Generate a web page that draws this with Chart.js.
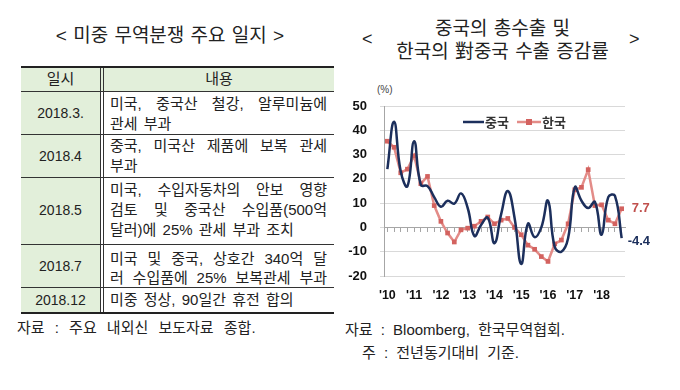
<!DOCTYPE html>
<html><head><meta charset="utf-8">
<script src="https://cdn.jsdelivr.net/npm/chart.js@4.4.1/dist/chart.umd.min.js"></script>
<style>
html,body{margin:0;padding:0;background:#fff;}
body{width:680px;height:390px;position:relative;overflow:hidden;font-family:"Liberation Sans","Noto Sans CJK KR",sans-serif;color:#222;}
.a{position:absolute;white-space:nowrap;}
.ln{position:absolute;background:#333;}
.bg{position:absolute;background:#e2efda;}
.c1{position:absolute;left:21px;width:79px;text-align:center;font-size:14px;line-height:20px;}
.t{position:absolute;left:110px;width:217px;font-size:15px;line-height:20px;white-space:nowrap;word-spacing:2px;}
.j{text-align:justify;text-align-last:justify;word-spacing:0;}
</style></head>
<body>
<!-- left: table -->
<div class="a" style="left:0;width:340px;top:25px;text-align:center;font-size:19px;line-height:22px;word-spacing:1px;">&lt; 미중 무역분쟁 주요 일지 &gt;</div>
<div class="bg" style="left:21px;top:68px;width:313px;height:24px;"></div>
<div class="bg" style="left:21px;top:92px;width:79px;height:220px;"></div>
<div class="ln" style="left:21px;top:66px;width:313px;height:2px;background:#222;"></div>
<div class="ln" style="left:21px;top:91px;width:313px;height:1px;"></div>
<div class="ln" style="left:21px;top:134px;width:313px;height:1px;"></div>
<div class="ln" style="left:21px;top:177px;width:313px;height:1px;"></div>
<div class="ln" style="left:21px;top:244px;width:313px;height:1px;"></div>
<div class="ln" style="left:21px;top:287px;width:313px;height:1px;"></div>
<div class="ln" style="left:21px;top:312px;width:313px;height:2px;background:#222;"></div>
<div class="ln" style="left:100px;top:68px;width:1px;height:244px;"></div>
<div class="ln" style="left:103px;top:68px;width:1px;height:244px;"></div>

<div class="c1" style="top:69px;font-size:15px;">일시</div>
<div class="a" style="left:104px;width:230px;top:69px;text-align:center;font-size:15px;line-height:20px;">내용</div>

<div class="c1" style="top:103px;">2018.3.</div>
<div class="t j" style="top:94px;">미국, 중국산 철강, 알루미늄에</div>
<div class="t" style="top:114px;">관세 부과</div>

<div class="c1" style="top:146px;">2018.4</div>
<div class="t j" style="top:136px;">중국, 미국산 제품에 보복 관세</div>
<div class="t" style="top:156px;">부과</div>

<div class="c1" style="top:200px;">2018.5</div>
<div class="t j" style="top:180px;">미국, 수입자동차의 안보 영향</div>
<div class="t j" style="top:200px;">검토 및 중국산 수입품(500억</div>
<div class="t" style="top:220px;">달러)에 25% 관세 부과 조치</div>

<div class="c1" style="top:256px;">2018.7</div>
<div class="t j" style="top:249px;">미국 및 중국, 상호간 340억 달</div>
<div class="t j" style="top:268px;">러 수입품에 25% 보복관세 부과</div>

<div class="c1" style="top:290px;">2018.12</div>
<div class="t" style="top:290px;">미중 정상, 90일간 휴전 합의</div>

<div class="a" style="left:17px;top:318px;font-size:15px;line-height:20px;word-spacing:6px;">자료 : 주요 내외신 보도자료 종합.</div>

<!-- right: chart -->
<div class="a" style="left:340px;width:325px;top:17px;text-align:center;font-size:19px;line-height:23px;word-spacing:1px;">중국의 총수출 및<br>한국의 對중국 수출 증감률</div>
<div class="a" style="left:362px;top:28px;font-size:18px;line-height:22px;">&lt;</div>
<div class="a" style="left:629px;top:28px;font-size:18px;line-height:22px;">&gt;</div>
<div class="a" style="left:377px;top:83px;font-size:10px;line-height:14px;color:#444;">(%)</div>
<canvas id="c" width="330" height="230" style="position:absolute;left:340px;top:85px;width:330px;height:230px;"></canvas>
<div class="a" style="left:345px;top:320px;font-size:15px;line-height:20px;word-spacing:4px;">자료 : Bloomberg, 한국무역협회.</div>
<div class="a" style="left:362px;top:343px;font-size:15px;line-height:20px;word-spacing:4px;">주 : 전년동기대비 기준.</div>

<script>
const quarters = ["2010Q1","2010Q2","2010Q3","2010Q4","2011Q1","2011Q2","2011Q3","2011Q4",
  "2012Q1","2012Q2","2012Q3","2012Q4","2013Q1","2013Q2","2013Q3","2013Q4",
  "2014Q1","2014Q2","2014Q3","2014Q4","2015Q1","2015Q2","2015Q3","2015Q4",
  "2016Q1","2016Q2","2016Q3","2016Q4","2017Q1","2017Q2","2017Q3","2017Q4",
  "2018Q1","2018Q2","2018Q3","2018Q4"];
const yearTicks = ["'10","'11","'12","'13","'14","'15","'16","'17","'18"];
const china = [24, 43.5, 23, 17, 35.5, 17.5, 17, 12.5, 8.5, 11, 9.8, 14, 8, -3.5, 1, 4, -6.5, 5.5, 15, 4,
  -15, 1.5, -4, 0, 11, -8, -10, -4.5, 16.5, 11, 8, 10.5, -3, 12.5, 13, -4.4];
const korea = [35.5, 33, 22.5, 24, 29.5, 18, 21, 9, 2.5, -2.3, -6, -1, -0.3, 0.5, 2.5, 4.3, 1.5, 3, 3.7, 0,
  -3, -7.3, -9, -12, -14, -6.8, -5.2, 1.5, 15.5, 16.5, 23.8, 9, 9.3, 3, 1.5, 7.7];
const seriesNames = ["중국", "한국"];
const yTicks = {min: -20, max: 50, step: 10};

const NAVY = '#1c2f5c', RED_LINE = '#e38c88', RED_MK = '#d3625f';

const overlay = {
  id: 'overlay',
  afterDatasetsDraw(chart) {
    const ctx = chart.ctx, a = chart.chartArea;
    ctx.save();
    const ly = a.top + 16;
    ctx.lineWidth = 2.5;
    ctx.strokeStyle = NAVY;
    ctx.beginPath(); ctx.moveTo(a.left + 79, ly); ctx.lineTo(a.left + 100, ly); ctx.stroke();
    ctx.font = 'bold 13px "Noto Sans CJK KR"';
    ctx.fillStyle = '#333';
    ctx.textBaseline = 'middle';
    ctx.textAlign = 'left';
    ctx.fillText(seriesNames[0], a.left + 101, ly);
    ctx.strokeStyle = RED_LINE;
    ctx.beginPath(); ctx.moveTo(a.left + 133, ly); ctx.lineTo(a.left + 157, ly); ctx.stroke();
    ctx.fillStyle = RED_MK;
    ctx.fillRect(a.left + 142, ly - 3, 6, 6);
    ctx.fillStyle = '#333';
    ctx.fillText(seriesNames[1], a.left + 158, ly);
    ctx.font = 'bold 13px "Liberation Sans"';
    const pk = chart.getDatasetMeta(1).data[korea.length - 1];
    ctx.fillStyle = '#c0504d';
    ctx.fillText(String(korea[korea.length - 1]), pk.x + 10, pk.y);
    const pc = chart.getDatasetMeta(0).data[china.length - 1];
    ctx.fillStyle = NAVY;
    ctx.fillText(String(china[china.length - 1]), pc.x + 6, pc.y + 3);
    ctx.restore();
  }
};

new Chart(document.getElementById('c'), {
  type: 'line',
  data: {
    labels: quarters,
    datasets: [
      {label: seriesNames[0], data: china, borderColor: NAVY, borderWidth: 2.5, pointRadius: 0, tension: 0.45, fill: false},
      {label: seriesNames[1], data: korea, borderColor: RED_LINE, borderWidth: 2.5, pointStyle: 'rect',
       pointRadius: 3.3, pointBackgroundColor: RED_MK, pointBorderColor: RED_MK, pointBorderWidth: 0, tension: 0, fill: false}
    ]
  },
  options: {
    responsive: false, animation: false, devicePixelRatio: 1,
    layout: {padding: {top: 21, right: 45, left: 0, bottom: 0}},
    plugins: {legend: {display: false}, tooltip: {enabled: false}},
    scales: {
      x: {
        type: 'category', offset: true,
        grid: {display: false, drawTicks: false}, border: {display: false},
        ticks: {autoSkip: false, maxRotation: 0, padding: 12, color: '#111',
          font: {family: 'Liberation Sans', size: 12.5, weight: 'bold'},
          callback: (v, i) => (i % 4 === 0 ? yearTicks[i / 4] : '')},
        afterFit(s) { s.height = 39; }
      },
      x0: {
        type: 'category', offset: true, position: {y: 0},
        ticks: {display: false},
        grid: {drawOnChartArea: false, drawTicks: true, tickLength: 4, color: '#a6a6a6'},
        border: {color: '#a6a6a6'}
      },
      y: {
        min: yTicks.min, max: yTicks.max,
        ticks: {stepSize: yTicks.step, padding: 13, color: '#111',
          font: {family: 'Liberation Sans', size: 13, weight: 'bold'}},
        grid: {color: '#d9d9d9', tickLength: 4, drawTicks: true},
        border: {color: '#a6a6a6'},
        afterFit(s) { s.width = 44; }
      }
    }
  },
  plugins: [overlay]
});
</script>
</body></html>
